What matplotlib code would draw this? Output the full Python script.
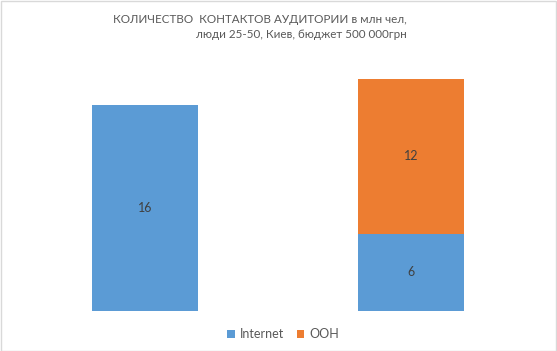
import matplotlib.pyplot as plt
import numpy as np

plt.rcParams['font.family'] = ['Lato', 'DejaVu Sans']

categories = ['A', 'B']
internet = [16, 6]
ooh = [0, 12]
series_names = ['Internet', 'OOH']
colors = ['#5b9bd5', '#ed7d31']

fig = plt.figure(figsize=(5.57, 3.51), dpi=100)
ax = fig.add_axes([12 / 557, 1 - 311 / 351, 532 / 557, 258 / 351])

x = np.arange(len(categories))
b1 = ax.bar(x, internet, width=0.4, color=colors[0], label=series_names[0])
b2 = ax.bar(x, ooh, width=0.4, bottom=internet, color=colors[1], label=series_names[1])

for bars, vals, base in [(b1, internet, [0, 0]), (b2, ooh, internet)]:
    for bar, v, b in zip(bars, vals, base):
        if v == 0:
            continue
        ax.text(bar.get_x() + bar.get_width() / 2, b + v / 2, str(v),
                ha='center', va='center', fontsize=9, color='#404040')

ax.set_xlim(-0.5, 1.5)
ax.set_ylim(0, 20)
ax.axis('off')

fig.text(407 / 557, 1 - 27 / 351,
         'КОЛИЧЕСТВО  КОНТАКТОВ АУДИТОРИИ в млн чел,\nлюди 25-50, Киев, бюджет 500 000грн',
         ha='right', va='center', multialignment='right', fontsize=8.4,
         color='#595959', linespacing=1.55)

fig.legend(handles=[b1, b2], loc='center', bbox_to_anchor=(283 / 557, 1 - 334 / 351),
           ncol=2, frameon=False, fontsize=9, handlelength=0.6, handleheight=0.6,
           handletextpad=0.4, columnspacing=1.0, labelcolor='#595959')

fig.patches.append(plt.Rectangle((0.001, 0.001), 0.997, 0.997, transform=fig.transFigure,
                                 fill=False, edgecolor='#d9d9d9', linewidth=1))

fig.savefig('out.png', dpi=100)
